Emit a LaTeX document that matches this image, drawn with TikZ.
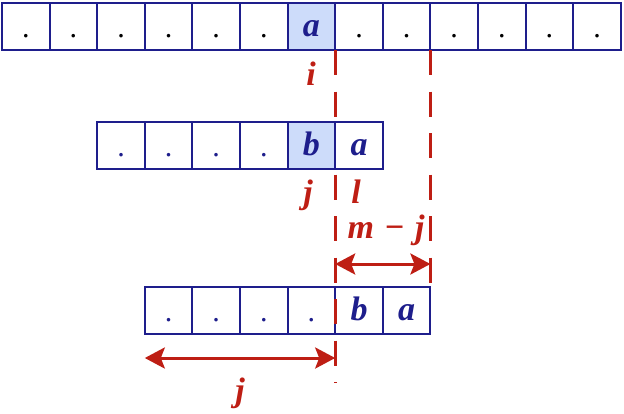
\documentclass[tikz,border=0pt]{standalone}
\usepackage{fontspec}
\setmainfont{Liberation Serif}
\usetikzlibrary{arrows.meta}
\definecolor{cellblue}{RGB}{30,30,140}
\definecolor{hl}{RGB}{205,220,250}
\definecolor{lred}{RGB}{190,30,20}
\begin{document}
\begin{tikzpicture}[x=1pt,y=-1pt,
  cell/.style={draw=cellblue, line width=2pt, fill=white, minimum width=47.6pt, minimum height=47pt,
    inner sep=0pt, outer sep=0pt, text height=20pt, text depth=0pt,
    font=\fontsize{34}{34}\selectfont\bfseries\itshape, text=cellblue},
  hlcell/.style={cell, fill=hl},
  dotcell/.style={cell, text height=21pt, font=\fontsize{30}{30}\selectfont},
  lbl/.style={text=lred, font=\fontsize{34}{34}\selectfont\bfseries\itshape, anchor=base, inner sep=0pt},
  vdash/.style={draw=lred, line width=3pt, dash pattern=on 25pt off 16.5pt},
  dimarrow/.style={draw=lred, line width=3pt,
    {Stealth[length=20pt,width=21pt,inset=4pt]}-{Stealth[length=20pt,width=21pt,inset=4pt]}}
]
\useasboundingbox (0,0) rectangle (624,413);
% top row
\foreach \k in {0,1,2,3,4,5,7,8,9,10,11,12}
  \node[dotcell, text=black] (t\k) at ({2+47.6*(\k+0.5)}, 26.5) {.};
\node[hlcell] (t6) at ({2+47.6*6.5}, 26.5) {a};
% third row
\foreach \k in {3,4,5,6}
  \node[dotcell] (r\k) at ({2+47.6*(\k+0.5)}, 310.5) {.};
\node[cell] (r7) at ({2+47.6*7.5}, 310.5) {b};
\node[cell] (r8) at ({2+47.6*8.5}, 310.5) {a};
% dashed lines
\coordinate (yend) at (0,383);
\coordinate (d1end) at (t6.south east |- yend);
\draw[vdash] (t6.south east) -- (d1end);
\draw[vdash] (t8.south east) -- (r8.north east);
% second row
\foreach \k in {2,3,4,5}
  \node[dotcell] (s\k) at ({2+47.6*(\k+0.5)}, 145.5) {.};
\node[hlcell] (s6) at ({2+47.6*6.5}, 145.5) {b};
\node[cell] (s7) at ({2+47.6*7.5}, 145.5) {a};
% dimension arrows
\coordinate (ymj) at (0,264);
\coordinate (yj) at (0,358);
\coordinate (mjl) at (t6.south east |- ymj);
\coordinate (mjr) at (t8.south east |- ymj);
\coordinate (jl) at (r3.south west |- yj);
\coordinate (jr) at (r6.south east |- yj);
\draw[dimarrow] (mjl) -- (mjr);
\draw[dimarrow] (jl) -- (jr);
% labels
\node[lbl] (li) at (311,85) {i};
\node[lbl] (lj) at (308,203) {j};
\node[lbl] (ll) at (356,203) {l};
\node[lbl] (lmj) at (386,238) {m\hspace{0.3em}−\hspace{0.3em}j};
\node[lbl] (lj2) at (240,401) {j};
\end{tikzpicture}
\end{document}
